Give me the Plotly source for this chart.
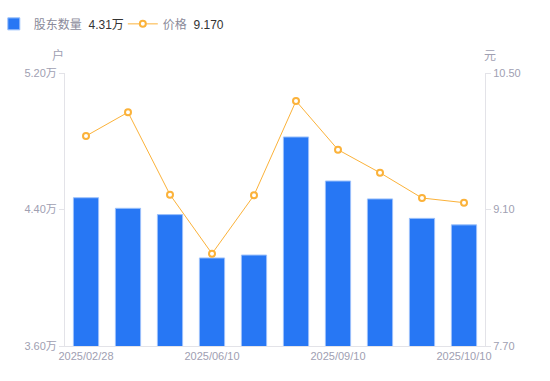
import plotly.graph_objects as go

dates = ["2025/02/28", "2025/03/31", "2025/05/20", "2025/06/10", "2025/06/30",
         "2025/08/29", "2025/09/10", "2025/09/19", "2025/09/30", "2025/10/10"]
holders = [4.469, 4.407, 4.370, 4.116, 4.133, 4.825, 4.567, 4.462, 4.348, 4.310]  # 万户
price = [9.854, 10.097, 9.252, 8.647, 9.246, 10.213, 9.713, 9.477, 9.218, 9.170]

shown_dates = ["2025/02/28", "2025/06/10", "2025/09/10", "2025/10/10"]
left_ticks = [3.6, 4.4, 5.2]
left_text = ["3.60万", "4.40万", "5.20万"]
right_ticks = [7.7, 9.1, 10.5]
right_text = ["7.70", "9.10", "10.50"]

FONT = "Liberation Sans, Arial, Noto Sans CJK SC, sans-serif"
BLUE = "#2777F4"
ORANGE = "#FBB23A"
GRAY = "#a0a0b2"
AXIS = "#e3e3e8"

fig = go.Figure()
fig.add_trace(go.Bar(
    x=dates, y=holders, name="股东数量  <span style='color:#333333'>4.31万</span>",
    marker=dict(color=BLUE, line=dict(color="#9cc1fb", width=1)),
    yaxis="y",
))
fig.add_trace(go.Scatter(
    x=dates, y=price, name="价格  <span style='color:#333333'>9.170</span>",
    mode="lines+markers",
    line=dict(color=ORANGE, width=1),
    marker=dict(symbol="circle", size=6, color="white", line=dict(color=ORANGE, width=2)),
    yaxis="y2",
))

fig.update_layout(
    width=550, height=381,
    margin=dict(l=65, r=65, t=73, b=35, autoexpand=False),
    paper_bgcolor="white", plot_bgcolor="white",
    bargap=0.4,
    font=dict(family=FONT, size=11, color=GRAY),
    showlegend=True,
    legend=dict(orientation="h", x=-0.1695, xanchor="left", y=1.18, yanchor="middle",
                font=dict(size=12, color="#8a8a9a"), itemwidth=30,
                entrywidth=84, entrywidthmode="pixels",
                bgcolor="rgba(0,0,0,0)"),
    xaxis=dict(
        type="category", categoryorder="array", categoryarray=dates,
        tickmode="array", tickvals=shown_dates, ticktext=shown_dates,
        showline=True, linecolor=AXIS, linewidth=1,
        showgrid=False, ticks="", tickfont=dict(size=11, color=GRAY),
        range=[-0.5, len(dates) - 0.5], zeroline=False, automargin=False,
    ),
    yaxis=dict(
        range=[3.6, 5.2], tickmode="array", tickvals=left_ticks, ticktext=left_text,
        showline=True, linecolor=AXIS, linewidth=1, showgrid=False, zeroline=False,
        ticks="outside", ticklen=5, tickcolor=AXIS, tickfont=dict(size=11, color=GRAY),
        automargin=False,
    ),
    yaxis2=dict(
        range=[7.7, 10.5], tickmode="array", tickvals=right_ticks, ticktext=right_text,
        overlaying="y", side="right",
        showline=True, linecolor=AXIS, linewidth=1, showgrid=False, zeroline=False,
        ticks="outside", ticklen=5, tickcolor=AXIS, tickfont=dict(size=11, color=GRAY),
        automargin=False,
    ),
    annotations=[
        dict(text="户", xref="paper", yref="paper", x=-0.017, y=1.03, xanchor="center",
             yanchor="bottom", showarrow=False, font=dict(size=12, color=GRAY)),
        dict(text="元", xref="paper", yref="paper", x=1.012, y=1.03, xanchor="center",
             yanchor="bottom", showarrow=False, font=dict(size=12, color=GRAY)),
    ],
)

fig.write_html("out.html", config={"displayModeBar": False},
               post_script="document.body.style.margin='0';")
